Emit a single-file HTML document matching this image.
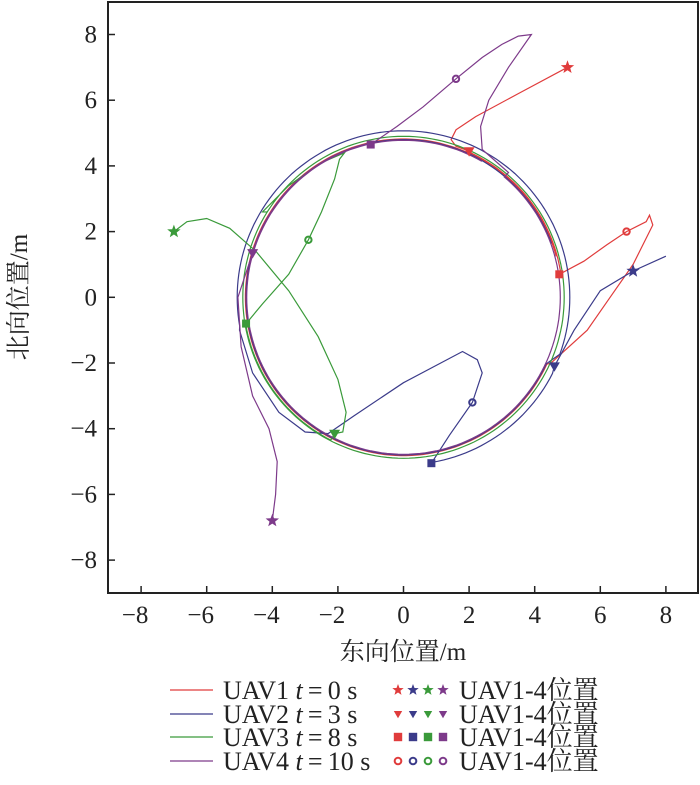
<!DOCTYPE html>
<html><head><meta charset="utf-8"><style>
body{margin:0;background:#fff}
svg text{font-family:"Liberation Serif","Noto Serif CJK SC",serif;fill:#222}
</style></head><body>
<svg width="700" height="780" viewBox="0 0 700 780">
<g id="plot"></g>
<rect x="108" y="2" width="590" height="591" fill="none" stroke="#222" stroke-width="2"/>
<g id="ticks"></g>
<text x="403" y="660" font-size="25" text-anchor="middle">东向位置/m</text>
<text transform="translate(27,297) rotate(-90)" font-size="25" text-anchor="middle">北向位置/m</text>
<g id="legend"></g>
</svg>
<script>
const xTicks=[-8,-6,-4,-2,0,2,4,6,8];
const yTicks=[-8,-6,-4,-2,0,2,4,6,8];
const colors=["#e03c3c","#3b3b8a","#3a9a3a","#7d3a8a"];
const seriesNames=["UAV1","UAV2","UAV3","UAV4"];
const legendTimes=["0","3","8","10"];
const uav1=[[[5,7],[3.5,6.2],[2.2,5.5],[1.6,5.1],[1.45,4.8],[1.6,4.6],[2,4.45]],{arc:[4.85,66,8]},[[4.75,0.7],[5.5,1.1],[6.2,1.6],[6.8,2.0],[7.4,2.3],[7.5,2.5],[7.6,2.2],[7,1],[6.3,0],[5.6,-1],[4.5,-2]],{arc:[4.82,-25,-345]}];
const uav2=[[[8,1.25],[7,0.8],[6,0.2],[5.2,-1],[4.6,-2.1]],{arc:[5.1,-27,-80]},[[0.85,-5.05],[1.4,-4.2],[2.1,-3.2],[2.4,-2.3],[2.25,-1.9],[1.8,-1.65],[0,-2.6],[-1.5,-3.6],[-2.3,-4.15],[-3,-4.1],[-3.8,-3.5],[-4.6,-2.3],[-5,-1]],{arc:[5.07,190,-20]},{arc:[4.8,-25,-340]}];
const uav3=[[[-7,2],[-6.6,2.3],[-6,2.4],[-5.3,2.1],[-4.5,1.4],[-3.5,0.2],[-2.6,-1.2],[-2,-2.5],[-1.75,-3.5],[-1.85,-4.1],[-2.1,-4.15]],{arc:[4.88,243,190]},[[-4.8,-0.8],[-4.3,-0.2],[-3.5,0.7],[-2.9,1.75],[-2.5,2.6],[-2.1,3.6],[-1.95,4.2],[-1.8,4.4],[-2.5,4.1],[-3.5,3.4],[-4.3,2.6]],{arc:[4.9,148,-212]}];
const uav4=[[[-4,-6.8],[-3.9,-6],[-3.85,-5],[-4.1,-4],[-4.6,-3],[-4.95,-1.5],[-5.05,0],[-4.6,1.35]],{arc:[4.8,164,102]},[[-1,4.65],[-0.2,5.2],[0.6,5.8],[1.6,6.65],[2.4,7.3],[3,7.7],[3.5,7.95],[3.9,8],[3.2,7],[2.6,6],[2.35,5.2],[2.4,4.5],[3.2,3.8]],{arc:[4.78,50,-300]}];
const paths=[uav1,uav2,uav3,uav4];
const starPts=[[5,7],[7,0.8],[-7,2],[-4,-6.8]];
const triPts=[[2,4.45],[4.6,-2.1],[-2.1,-4.15],[-4.6,1.35]];
const sqPts=[[4.75,0.7],[0.85,-5.05],[-4.8,-0.8],[-1,4.65]];
const circPts=[[6.8,2.0],[2.1,-3.2],[-2.9,1.75],[1.6,6.65]];

const X=v=>403.5+32.8*v, Y=v=>297.3-32.85*v;
const NS="http://www.w3.org/2000/svg";
function mk(tag,attrs,parent){const e=document.createElementNS(NS,tag);for(const k in attrs)e.setAttribute(k,attrs[k]);parent.appendChild(e);return e;}
const plot=document.getElementById('plot'), ticks=document.getElementById('ticks'), legend=document.getElementById('legend');
xTicks.forEach(t=>{
  const l=mk('line',{x1:X(t),x2:X(t),y1:593,y2:586,stroke:'#222','stroke-width':1.5},ticks);
  
  
  const tx=mk('text',{x:X(t)-(t<0?6:0),y:623,'font-size':25,'text-anchor':'middle'},ticks);tx.textContent=(t<0?'\u2212'+(-t):t);
  
  
});
yTicks.forEach(t=>{
  const l=mk('line',{x1:108,x2:115,y1:Y(t),y2:Y(t),stroke:'#222','stroke-width':1.5},ticks);
  
  
  const tx=mk('text',{x:97,y:Y(t)+8,'font-size':25,'text-anchor':'end'},ticks);tx.textContent=(t<0?'\u2212'+(-t):t);
  
  
});
function buildD(segs){let pts=[];segs.forEach(s=>{
  if(Array.isArray(s)){s.forEach(p=>pts.push([X(p[0]),Y(p[1])]));}
  else{const [r,a0,a1]=s.arc;const n=Math.ceil(Math.abs(a1-a0)/2);for(let i=0;i<=n;i++){const a=(a0+(a1-a0)*i/n)*Math.PI/180;pts.push([X(r*Math.cos(a)),Y(r*Math.sin(a))]);}}
});return 'M'+pts.map(p=>p[0].toFixed(1)+','+p[1].toFixed(1)).join('L');}
paths.forEach((p,i)=>{
  const e=mk('path',{d:buildD(p),fill:'none',stroke:colors[i],'stroke-width':1.2},plot);
  
  
});
function star(cx,cy,R,c,par){let s='';for(let i=0;i<10;i++){const r=i%2?R*0.42:R;const a=-Math.PI/2+i*Math.PI/5;s+=(cx+r*Math.cos(a)).toFixed(1)+','+(cy+r*Math.sin(a)).toFixed(1)+' ';}return mk('polygon',{points:s,fill:c},par);}
function tri(cx,cy,R,c,par){return mk('polygon',{points:`${cx-R},${cy-R*0.7} ${cx+R},${cy-R*0.7} ${cx},${cy+R}`,fill:c},par);}
function sq(cx,cy,R,c,par){return mk('rect',{x:cx-R,y:cy-R,width:2*R,height:2*R,fill:c},par);}
function circ(cx,cy,R,c,par){return mk('circle',{cx:cx,cy:cy,r:R,fill:'none',stroke:c,'stroke-width':2},par);}
for(let i=0;i<4;i++){
  let m=star(X(starPts[i][0]),Y(starPts[i][1]),7,colors[i],plot);
  
  
  m=tri(X(triPts[i][0]),Y(triPts[i][1]),5.5,colors[i],plot);
  
  
  m=sq(X(sqPts[i][0]),Y(sqPts[i][1]),4,colors[i],plot);
  
  
  m=circ(X(circPts[i][0]),Y(circPts[i][1]),3.2,colors[i],plot);
  
  
}
const ly=[690,714,737,761];
const shapes=[star,tri,sq,circ];
for(let i=0;i<4;i++){
  const l=mk('line',{x1:170,x2:213,y1:ly[i],y2:ly[i],stroke:colors[i],'stroke-width':1.2},legend);
  
  
  const t=mk('text',{x:223,y:ly[i]+9,'font-size':26},legend);
  t.innerHTML=seriesNames[i]+' <tspan font-style="italic">t</tspan>\u2009=\u2009'+legendTimes[i]+' s';
  
  
  for(let j=0;j<4;j++){
    const m=shapes[i](398+j*15,ly[i],i==0?6:(i==3?3.3:4.2),colors[j],legend);
    
    
  }
  const t2=mk('text',{x:459,y:ly[i]+9,'font-size':26},legend);
  t2.textContent='UAV1-4位置';
  
  
}
</script>
</body></html>
